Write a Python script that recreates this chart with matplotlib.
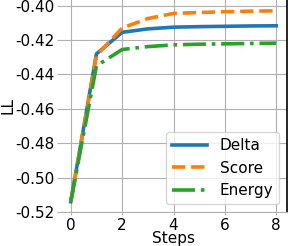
import matplotlib
matplotlib.use('Agg')
import matplotlib.pyplot as plt

# valores
steps = [0, 1, 2, 3, 4, 5, 6, 7, 8]
delta = [-0.514, -0.428, -0.4155, -0.4135, -0.4125, -0.4122, -0.412, -0.4118, -0.4117]
score = [-0.514, -0.429, -0.413, -0.4075, -0.4045, -0.404, -0.4035, -0.4032, -0.403]
energy = [-0.514, -0.435, -0.4255, -0.4238, -0.4228, -0.4224, -0.4222, -0.422, -0.4218]
yticks = [-0.52, -0.50, -0.48, -0.46, -0.44, -0.42, -0.40]
xticks = [0, 2, 4, 6, 8]

plt.rcParams['font.family'] = 'DejaVu Sans'
plt.rcParams['font.size'] = 11

fig = plt.figure(figsize=(2.88, 2.46), dpi=100)
ax = fig.add_axes([60 / 288, 34 / 246, 227 / 288, 212 / 246])

ax.plot(steps, delta, color='#1f77b4', lw=2.6, ls='-', label='Delta')
ax.plot(steps, score, color='#ff7f0e', lw=2.6, ls='--', label='Score')
ax.plot(steps, energy, color='#2ca02c', lw=2.6, ls='-.', label='Energy')

ax.set_xticks(xticks)
ax.set_yticks(yticks)
ax.set_yticklabels(['%.2f' % v for v in yticks])
ax.set_xlim(-0.42, 8.42)
ax.set_ylim(-0.52, -0.3967)

ax.grid(True, color='#b0b0b0', lw=0.8)
ax.tick_params(colors='#b0b0b0', labelcolor='black', length=2.5, width=0.8, pad=1.5)
ax.spines['top'].set_visible(False)
ax.spines['left'].set_visible(False)
ax.spines['bottom'].set_color('#b0b0b0')
ax.spines['right'].set_color('black')
ax.spines['right'].set_linewidth(1.2)

ax.set_xlabel('Steps', labelpad=-1)
ax.set_ylabel('LL', labelpad=0)
ax.legend(loc='lower right', handlelength=2.3, fontsize=11, borderaxespad=0.5)

fig.savefig('out.png', dpi=100)
